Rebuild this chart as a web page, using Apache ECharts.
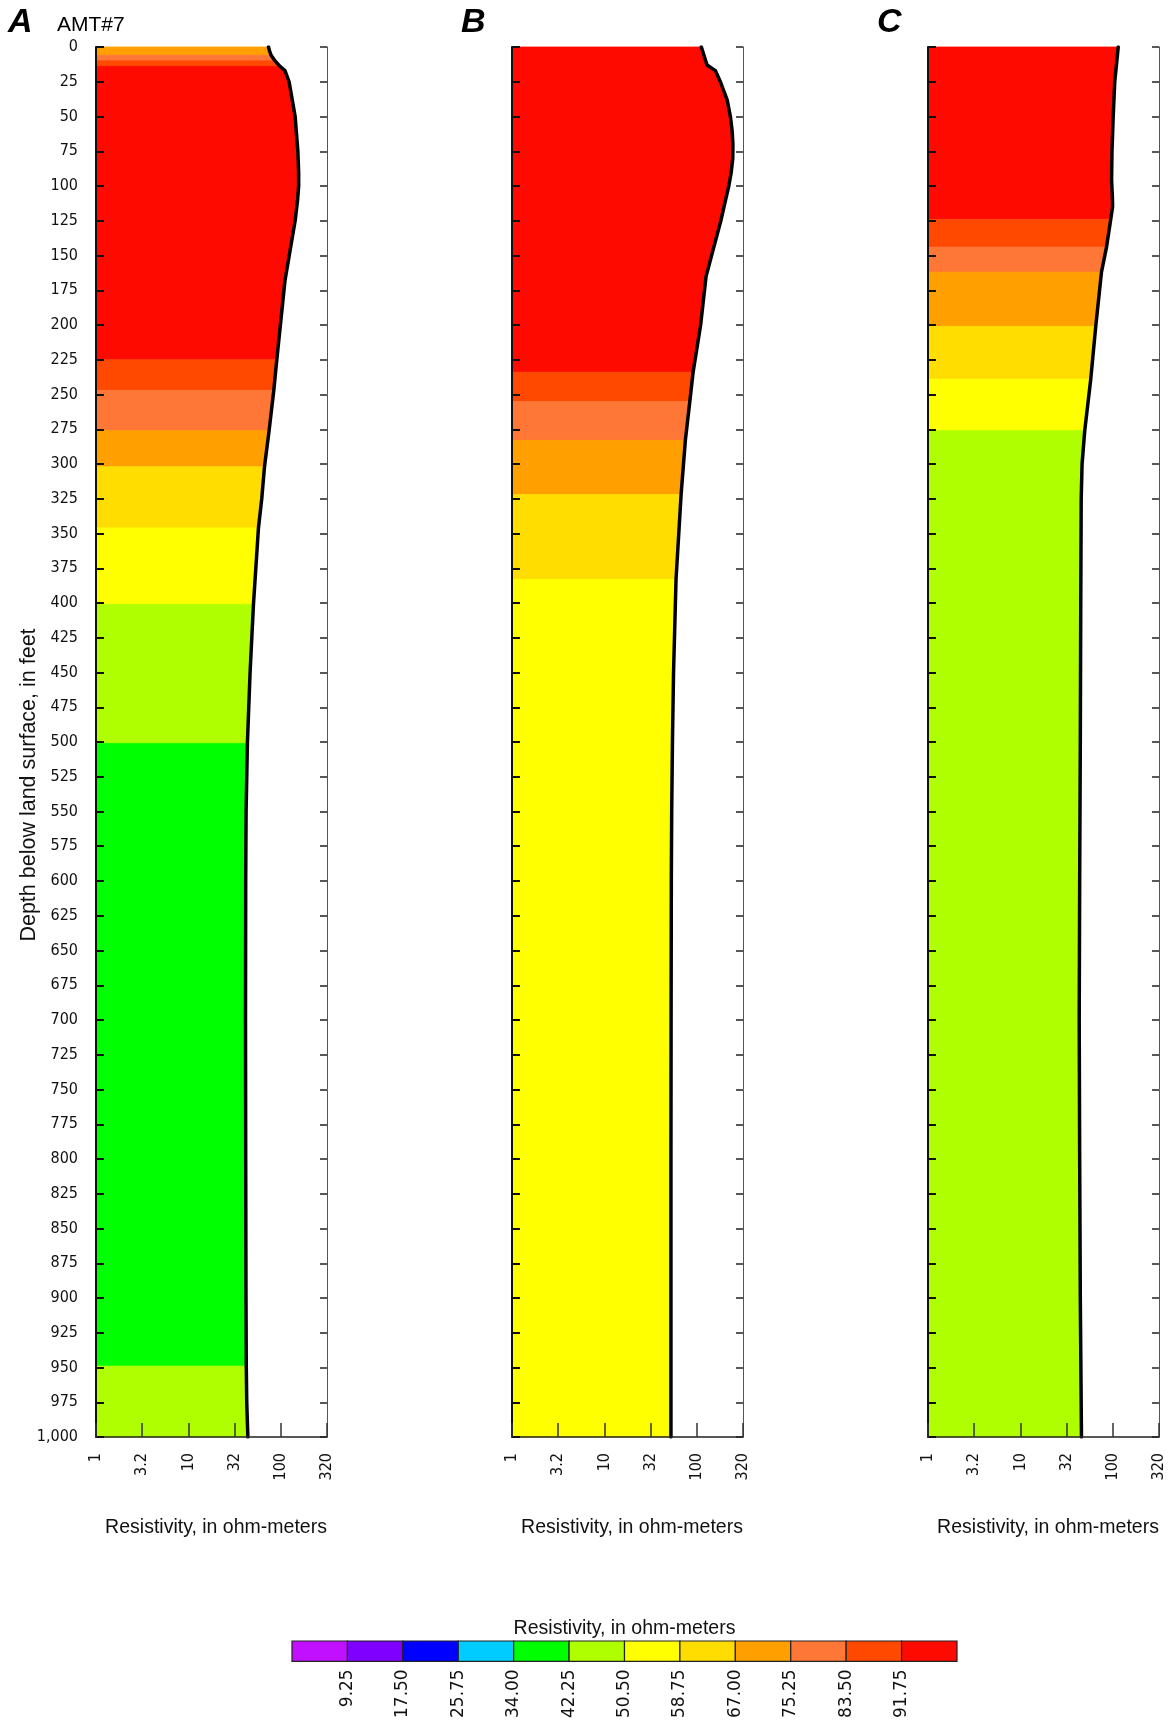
<!DOCTYPE html>
<html>
<head>
<meta charset="utf-8">
<script src="https://cdn.jsdelivr.net/npm/echarts@6/dist/echarts.min.js"></script>
<style>
  html, body { margin: 0; padding: 0; background: #fff; }
  #chart { width: 1174px; height: 1721px; }
</style>
</head>
<body>
<div id="chart"></div>
<script>
// Colour classes of the resistivity scale (ohm-meters), lowest to highest
const palette = ['#C010FF', '#7F00FF', '#0000FF', '#00CCFF', '#00FF00', '#AFFF00',
                 '#FFFF00', '#FFDD00', '#FFA000', '#FF7737', '#FF4800', '#FF0A00'];
const legendTicks = ['9.25', '17.50', '25.75', '34.00', '42.25', '50.50',
                     '58.75', '67.00', '75.25', '83.50', '91.75'];
const resTickLabels = ['1', '3.2', '10', '32', '100', '320'];

// Sounding A (AMT#7): depth in feet, resistivity in ohm-meters
const depthA = [0, 3, 6, 10, 14, 17, 25, 50, 75, 90, 100, 110, 125, 168, 225, 247, 276, 302,
                325, 346, 401, 450, 501, 550, 600, 700, 800, 900, 949, 975, 1000];
const resA   = [73.6, 75.6, 78.6, 86.7, 98, 111, 123, 143, 153, 156, 156, 152, 143, 111, 90.5,
                84, 74.7, 66.6, 62.2, 57.3, 50.6, 46.5, 43.5, 42.1, 41.7, 41.5, 41.7, 42, 42.3,
                42.8, 44];
const bandEdgesA = [0, 6, 10, 14, 225, 247, 276, 302, 346, 401, 501, 949, 1000];
const bandColorA = [8, 9, 10, 11, 10, 9, 8, 7, 6, 5, 4, 5];

// Sounding B
const depthB = [0, 13, 17, 25, 38, 50, 60, 70, 80, 90, 100, 110, 125, 165, 200, 234, 255, 283,
                322, 383, 450, 500, 550, 600, 700, 800, 900, 1000];
const resB   = [112, 129, 159, 180, 213, 231, 241, 246, 245, 236, 222, 205, 182, 126, 110, 91.2,
                84, 75.2, 67.6, 59.6, 56, 54.5, 53.5, 53, 52.7, 52.5, 52.5, 52.5];
const bandEdgesB = [0, 234, 255, 283, 322, 383, 1000];
const bandColorB = [11, 10, 9, 8, 7, 6];

// Sounding C
const depthC = [0, 25, 50, 75, 96, 108, 115, 124, 144, 162, 201, 239, 276, 300, 325, 400, 500,
                600, 700, 800, 900, 1000];
const resC   = [114.5, 105, 101, 98, 97, 99, 99.5, 95, 85.5, 75.4, 65.4, 57.7, 49.7, 46.5, 45.5,
                45, 44.5, 43.8, 43.3, 43.8, 44.5, 45.8];
const bandEdgesC = [0, 124, 144, 162, 201, 239, 276, 1000];
const bandColorC = [11, 10, 9, 8, 7, 6, 5];

const NARROW = "'DejaVu Sans Condensed', 'Liberation Sans Narrow', sans-serif";
const SANS = "'Liberation Sans', Arial, sans-serif";
const WIDE = "'DejaVu Sans', sans-serif";
const INK = '#111';

const panels = [
  { left: 96,  depth: depthA, res: resA, edges: bandEdgesA, colors: bandColorA },
  { left: 512, depth: depthB, res: resB, edges: bandEdgesB, colors: bandColorB },
  { left: 928, depth: depthC, res: resC, edges: bandEdgesC, colors: bandColorC }
];

// Filled area between the left edge (1 ohm-m) and the curve, for one depth band
function bandRenderer(depths, res) {
  const logs = res.map(Math.log10);
  function curveAt(d) {
    for (let i = 0; i < depths.length - 1; i++) {
      if (d >= depths[i] && d <= depths[i + 1]) {
        const t = (d - depths[i]) / (depths[i + 1] - depths[i]);
        return logs[i] + t * (logs[i + 1] - logs[i]);
      }
    }
    return logs[logs.length - 1];
  }
  return function (params, api) {
    const top = api.value(0), bottom = api.value(1), ci = api.value(2);
    const pts = [api.coord([0, top]), api.coord([curveAt(top), top])];
    depths.forEach((d, i) => {
      if (d > top && d < bottom) pts.push(api.coord([logs[i], d]));
    });
    pts.push(api.coord([curveAt(bottom), bottom]), api.coord([0, bottom]));
    return {
      type: 'polygon',
      shape: { points: pts },
      style: { fill: palette[ci], stroke: palette[ci], lineWidth: 0.8 }
    };
  };
}

const grid = panels.map(p => ({ left: p.left, top: 47, width: 231, height: 1390 }));
grid.push({ left: 292, top: 1641, width: 665, height: 23 });

const xAxis = panels.map((p, i) => ({
  type: 'value', gridIndex: i, min: 0, max: 2.5, interval: 0.5, z: 10,
  axisLine: { onZero: false, lineStyle: { color: '#222', width: 1.5 } },
  axisTick: { inside: true, length: 14, lineStyle: { color: '#333', width: 1.5 } },
  splitLine: { show: false },
  axisLabel: {
    rotate: 90, margin: 16, fontFamily: NARROW, fontSize: 16, color: INK,
    formatter: v => resTickLabels[Math.round(v / 0.5)]
  },
  name: 'Resistivity, in ohm-meters', nameLocation: 'middle', nameGap: 81,
  nameTextStyle: { fontFamily: SANS, fontSize: 19.5, color: INK, padding: [0, 0, 0, 9] }
}));
xAxis.push({
  type: 'value', gridIndex: 3, min: 0, max: 12, interval: 1,
  axisLine: { show: false }, axisTick: { show: false }, splitLine: { show: false },
  axisLabel: {
    rotate: 90, margin: 8, fontFamily: WIDE, fontSize: 17, color: INK,
    formatter: v => (v >= 1 && v <= 11) ? legendTicks[v - 1] : ''
  }
});

const yAxis = [];
panels.forEach((p, i) => {
  yAxis.push({
    type: 'value', gridIndex: i, inverse: true, min: 0, max: 1000, interval: 25,
    position: 'left', z: 10,
    axisLine: { onZero: false, lineStyle: { color: INK, width: 2 } },
    axisTick: { inside: true, length: 8, lineStyle: { color: INK, width: 2 } },
    splitLine: { show: false },
    axisLabel: {
      show: i === 0, margin: 18, fontFamily: NARROW, fontSize: 16, color: INK,
      padding: [4, 0, 0, 0],
      formatter: v => v.toLocaleString('en-US')
    }
  });
  yAxis.push({
    type: 'value', gridIndex: i, inverse: true, min: 0, max: 1000, interval: 25,
    position: 'right', z: 10,
    axisLine: { onZero: false, lineStyle: { color: '#555', width: 1 } },
    axisTick: { inside: true, length: 7, lineStyle: { color: '#222', width: 1.5 } },
    splitLine: { show: false },
    axisLabel: { show: false }
  });
});
yAxis.push({ type: 'value', gridIndex: 3, min: 0, max: 1, show: false });

const series = [];
panels.forEach((p, i) => {
  series.push({
    type: 'custom', xAxisIndex: i, yAxisIndex: 2 * i, silent: true, z: 1,
    data: p.colors.map((c, k) => [p.edges[k], p.edges[k + 1], c]),
    renderItem: bandRenderer(p.depth, p.res)
  });
  series.push({
    type: 'line', xAxisIndex: i, yAxisIndex: 2 * i, silent: true, z: 5,
    data: p.depth.map((d, k) => [Math.log10(p.res[k]), d]),
    showSymbol: false, symbol: 'none',
    lineStyle: { color: '#000', width: 3.5, cap: 'round', join: 'round' }
  });
});
// Colour scale bar
series.push({
  type: 'custom', xAxisIndex: 3, yAxisIndex: 6, silent: true,
  data: palette.map((c, i) => [i]),
  renderItem: function (params, api) {
    const i = api.value(0);
    const p0 = api.coord([i, 1]);
    const p1 = api.coord([i + 1, 0]);
    return {
      type: 'rect',
      shape: { x: p0[0], y: p0[1], width: p1[0] - p0[0], height: p1[1] - p0[1] },
      style: { fill: palette[i], stroke: '#222', lineWidth: 1.2 }
    };
  }
});

const letter = (txt, x) => ({
  type: 'text', x: x, y: 23,
  style: { text: txt, fontFamily: SANS, fontSize: 34, fontWeight: 'bold', fontStyle: 'italic',
           fill: '#000', textVerticalAlign: 'middle' }
});

const graphic = [
  letter('A', 8), letter('B', 461), letter('C', 877),
  { type: 'text', x: 57, y: 25,
    style: { text: 'AMT#7', fontFamily: SANS, fontSize: 21, fill: '#000', textVerticalAlign: 'middle' } },
  { type: 'text', x: 29, y: 785, rotation: Math.PI / 2,
    style: { text: 'Depth below land surface, in feet', fontFamily: SANS, fontSize: 21.5, fill: INK,
             textAlign: 'center', textVerticalAlign: 'middle' } },
  { type: 'text', x: 624.5, y: 1629,
    style: { text: 'Resistivity, in ohm-meters', fontFamily: SANS, fontSize: 19.5, fill: INK,
             textAlign: 'center', textVerticalAlign: 'middle' } }
];

const chart = echarts.init(document.getElementById('chart'), null, { renderer: 'canvas' });
chart.setOption({
  animation: false,
  backgroundColor: '#fff',
  grid: grid,
  xAxis: xAxis,
  yAxis: yAxis,
  series: series,
  graphic: graphic
});
</script>
</body>
</html>
